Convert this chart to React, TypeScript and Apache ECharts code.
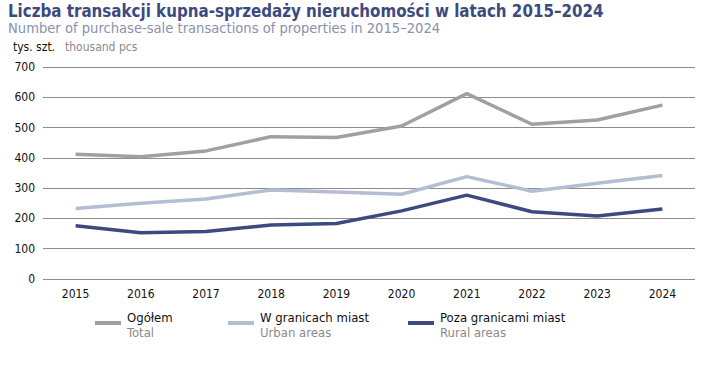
import React, { useEffect, useRef } from "react";
import * as echarts from "echarts";

const years = ["2015", "2016", "2017", "2018", "2019", "2020", "2021", "2022", "2023", "2024"];
const totalValues = [412, 404, 423, 470, 467, 505, 612, 511, 525, 574];
const urbanValues = [233, 250, 264, 294, 287, 280, 338, 290, 316, 342];
const ruralValues = [176, 153, 157, 178, 183, 225, 277, 222, 208, 231];
const yTicks = [0, 100, 200, 300, 400, 500, 600, 700];

const FONT = "'DejaVu Sans Condensed', 'Noto Sans', sans-serif";
const C_TOTAL = "#a0a0a0";
const C_URBAN = "#b5bdd5";
const C_RURAL = "#3d4a82";
const TITLE = "#3d4a7e";
const SUB = "#8a90ad";

export default function App() {
  const ref = useRef<HTMLDivElement>(null);
  useEffect(() => {
    document.body.style.margin = "0";
    const chart = echarts.init(ref.current!, null, { renderer: "svg" });
    const legendItem = (x: number, color: string, pl: string, en: string) => [
      { type: "line", shape: { x1: x, y1: 323, x2: x + 26, y2: 323 }, style: { stroke: color, lineWidth: 4 } },
      { type: "text", x: x + 32, y: 311, style: { text: pl, font: `13px ${FONT}`, fill: "#111" } },
      { type: "text", x: x + 32, y: 326, style: { text: en, font: `13px ${FONT}`, fill: "#8a8a8a" } },
    ];
    chart.setOption({
      animation: false,
      grid: { left: 43, right: 32, top: 67, bottom: 88 },
      graphic: [
        { type: "text", x: 8, y: 2, style: { text: "Liczba transakcji kupna-sprzedaży nieruchomości w latach 2015–2024", font: `bold 16.8px ${FONT}`, fill: TITLE } },
        { type: "text", x: 8, y: 20, style: { text: "Number of purchase-sale transactions of properties in 2015–2024", font: `14.6px ${FONT}`, fill: SUB } },
        { type: "text", x: 13, y: 41, style: { text: "tys. szt.", font: `12px ${FONT}`, fill: "#111" } },
        { type: "text", x: 65, y: 41, style: { text: "thousand pcs", font: `12px ${FONT}`, fill: "#8a8a8a" } },
        ...legendItem(95, C_TOTAL, "Ogółem", "Total"),
        ...legendItem(228, C_URBAN, "W granicach miast", "Urban areas"),
        ...legendItem(408, C_RURAL, "Poza granicami miast", "Rural areas"),
      ],
      xAxis: {
        type: "category",
        data: years,
        boundaryGap: true,
        axisLine: { show: false },
        axisTick: { show: false },
        axisLabel: { color: "#111", fontFamily: FONT, fontSize: 12, margin: 9 },
      },
      yAxis: {
        type: "value",
        min: 0,
        max: 700,
        interval: 100,
        axisLine: { show: false },
        axisTick: { show: false },
        axisLabel: { color: "#111", fontFamily: FONT, fontSize: 12, margin: 8, formatter: (v: number) => (yTicks.includes(v) ? String(v) : "") },
        splitLine: { lineStyle: { color: "#8c8c8c", width: 1 } },
      },
      series: [
        { name: "Ogółem", type: "line", data: totalValues, symbol: "none", lineStyle: { color: C_TOTAL, width: 3.5 } },
        { name: "W granicach miast", type: "line", data: urbanValues, symbol: "none", lineStyle: { color: C_URBAN, width: 3.5 } },
        { name: "Poza granicami miast", type: "line", data: ruralValues, symbol: "none", lineStyle: { color: C_RURAL, width: 3.5 } },
      ],
    });
    return () => chart.dispose();
  }, []);
  return <div ref={ref} style={{ width: 727, height: 367 }} />;
}
